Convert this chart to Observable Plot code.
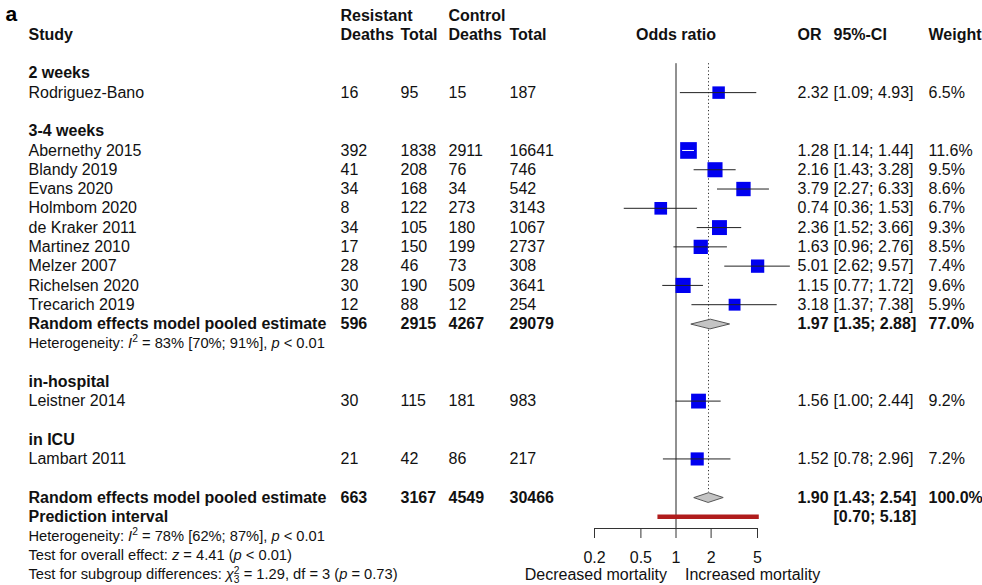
<!DOCTYPE html>
<html><head><meta charset="utf-8">
<script src="https://cdn.jsdelivr.net/npm/d3@7"></script>
<script src="https://cdn.jsdelivr.net/npm/@observablehq/plot@0.6"></script>
<style>
html,body{margin:0;padding:0;background:#fff;}
#chart svg{display:block;}
</style></head><body><div id="chart"></div>
<script>
// ---------------- data ----------------
const panelLetter = "a";
const groups = ["2 weeks", "3-4 weeks", "in-hospital", "in ICU"];
const studies = ["Rodriguez-Bano", "Abernethy 2015", "Blandy 2019", "Evans 2020", "Holmbom 2020", "de Kraker 2011",
  "Martinez 2010", "Melzer 2007", "Richelsen 2020", "Trecarich 2019", "Leistner 2014", "Lambart 2011"];
const studyGroup = [0, 1, 1, 1, 1, 1, 1, 1, 1, 1, 2, 3];
const resDeaths = [16, 392, 41, 34, 8, 34, 17, 28, 30, 12, 30, 21];
const resTotal = [95, 1838, 208, 168, 122, 105, 150, 46, 190, 88, 115, 42];
const ctrlDeaths = [15, 2911, 76, 34, 273, 180, 199, 73, 509, 12, 181, 86];
const ctrlTotal = [187, 16641, 746, 542, 3143, 1067, 2737, 308, 3641, 254, 983, 217];
const oddsRatio = [2.32, 1.28, 2.16, 3.79, 0.74, 2.36, 1.63, 5.01, 1.15, 3.18, 1.56, 1.52];
const ciLow = [1.09, 1.14, 1.43, 2.27, 0.36, 1.52, 0.96, 2.62, 0.77, 1.37, 1.00, 0.78];
const ciHigh = [4.93, 1.44, 3.28, 6.33, 1.53, 3.66, 2.76, 9.57, 1.72, 7.38, 2.44, 2.96];
const weights = [6.5, 11.6, 9.5, 8.6, 6.7, 9.3, 8.5, 7.4, 9.6, 5.9, 9.2, 7.2];

// subgroup pooled estimates (only groups with >1 study)
const pooledGroup = [1];
const pooledCounts = [[596, 2915, 4267, 29079]];
const pooledOR = [1.97];
const pooledLow = [1.35];
const pooledHigh = [2.88];
const pooledWeight = [77.0];
const pooledHet = ["Heterogeneity: *I*^2^ = 83% [70%; 91%], *p* < 0.01"];

// overall
const pooledLabel = "Random effects model pooled estimate";
const overallCounts = [663, 3167, 4549, 30466];
const overallOR = 1.90, overallLow = 1.43, overallHigh = 2.54, overallWeight = 100.0;
const predLabel = "Prediction interval";
const predLow = 0.70, predHigh = 5.18;
const footnotes = [
  "Heterogeneity: *I*^2^ = 78% [62%; 87%], *p* < 0.01",
  "Test for overall effect: *z* = 4.41 (*p* < 0.01)",
  "Test for subgroup differences: *χ*^2^_3_ = 1.29, df = 3 (*p* = 0.73)"
];
const headerTop = ["Resistant", "Control"];
const headerCols = ["Study", "Deaths", "Total", "Deaths", "Total", "Odds ratio", "OR", "95%-CI", "Weight"];
const ticks = [0.2, 0.5, 1, 2, 5];
const nullEffect = 1;
const labelLeft = "Decreased mortality", labelRight = "Increased mortality";

// ---------------- layout ----------------
const W = 982, H = 585;
const X0 = 594, X1 = 757;
const top0 = 15, pitch = 19.28, axisY = 528;
const axisRow = (axisY - top0) / pitch;
const colX = {a: 5, study: 28, resD: 340, resT: 400, ctrlD: 448, ctrlT: 509, or: 797, ci: 833, w: 928};
const fs = 16, fsSmall = 14.7;
const ink = "#111";
const rMax = 9.4;
const pxPerDecade = (X1 - X0) / Math.log10(ticks[ticks.length - 1] / ticks[0]);
const dh = 0.25;

const f2 = d => d.toFixed(2);
const fci = (lo, hi) => `[${f2(lo)}; ${f2(hi)}]`;
const fw = d => d.toFixed(1) + "%";

// ---------------- build rows ----------------
const cells = [];
const add = (row, col, text, bold = false, size = fs) => cells.push({row, col, text: String(text), weight: bold ? "bold" : "normal", size});
add(0, "resD", headerTop[0], true); add(0, "ctrlD", headerTop[1], true);
["study", "resD", "resT", "ctrlD", "ctrlT"].forEach((c, k) => add(1, c, headerCols[k], true));
["or", "ci", "w"].forEach((c, k) => add(1, c, headerCols[6 + k], true));

const studyRows = [], summaries = [];
let r = 3;
groups.forEach((g, gi) => {
  add(r++, "study", g, true);
  studies.forEach((s, i) => {
    if (studyGroup[i] !== gi) return;
    add(r, "study", s); add(r, "resD", resDeaths[i]); add(r, "resT", resTotal[i]);
    add(r, "ctrlD", ctrlDeaths[i]); add(r, "ctrlT", ctrlTotal[i]);
    add(r, "or", f2(oddsRatio[i])); add(r, "ci", fci(ciLow[i], ciHigh[i])); add(r, "w", fw(weights[i]));
    studyRows.push({row: r, or: oddsRatio[i], lo: ciLow[i], hi: ciHigh[i], w: weights[i]});
    r++;
  });
  const p = pooledGroup.indexOf(gi);
  if (p >= 0) {
    add(r, "study", pooledLabel, true);
    ["resD", "resT", "ctrlD", "ctrlT"].forEach((c, k) => add(r, c, pooledCounts[p][k], true));
    add(r, "or", f2(pooledOR[p]), true); add(r, "ci", fci(pooledLow[p], pooledHigh[p]), true); add(r, "w", fw(pooledWeight[p]), true);
    summaries.push({row: r, est: pooledOR[p], lo: pooledLow[p], hi: pooledHigh[p]});
    r++;
    add(r++, "study", pooledHet[p], false, fsSmall);
  }
  r++;
});
const overallRow = r;
add(r, "study", pooledLabel, true);
["resD", "resT", "ctrlD", "ctrlT"].forEach((c, k) => add(r, c, overallCounts[k], true));
add(r, "or", f2(overallOR), true); add(r, "ci", fci(overallLow, overallHigh), true); add(r, "w", fw(overallWeight), true);
summaries.push({row: r, est: overallOR, lo: overallLow, hi: overallHigh});
r++;
const predRow = r;
add(r, "study", predLabel, true); add(r, "ci", fci(predLow, predHigh), true);
r++;
footnotes.forEach(t => add(r++, "study", t, false, fsSmall));
const bottomRow = r - 1;

const wMax = d3.max(weights);
studyRows.forEach(d => {
  const side = rMax * Math.sqrt(Math.PI) * Math.sqrt(d.w / wMax);
  d.inside = Math.log10(d.hi / d.lo) * pxPerDecade < side;
});
const diamondPts = summaries.flatMap((s, k) => [
  {id: k, x: s.lo, y: s.row}, {id: k, x: s.est, y: s.row - dh},
  {id: k, x: s.hi, y: s.row}, {id: k, x: s.est, y: s.row + dh}
]);

const cellMarks = d3.groups(cells, d => d.col, d => d.weight, d => d.size).flatMap(([col, byW]) =>
  byW.flatMap(([wt, byS]) => byS.map(([size, data]) =>
    Plot.text(data, {y: "row", text: "text", frameAnchor: "left", textAnchor: "start",
      dx: colX[col] - X0, fontWeight: wt, fontSize: size, fill: ink}))));

const plot = Plot.plot({
  width: W, height: H,
  marginLeft: X0, marginRight: W - X1, marginTop: top0, marginBottom: H - axisY,
  style: {fontFamily: "'Liberation Sans', Arial, Helvetica, sans-serif", fontSize: fs + "px", background: "#fff", color: ink, overflow: "visible"},
  x: {type: "log", domain: [ticks[0], ticks[ticks.length - 1]], range: [X0, X1]},
  y: {domain: [0, axisRow], range: [top0, axisY], axis: null},
  r: {type: "sqrt", domain: [0, wMax], range: [0, rMax]},
  marks: [
    Plot.ruleX([nullEffect], {y1: 2.5, y2: axisRow, stroke: "#222", strokeWidth: 1}),
    Plot.ruleX([overallOR], {y1: 2.5, y2: overallRow - dh, stroke: "#333", strokeWidth: 1, strokeDasharray: "1.2,2.4"}),
    Plot.ruleY([predRow], {x1: predLow, x2: predHigh, stroke: "#b01c1c", strokeWidth: 4.5}),
    Plot.dot(studyRows, {x: "or", y: "row", r: "w", symbol: "square", fill: "#0000f0", stroke: "none"}),
    Plot.ruleY(studyRows.filter(d => !d.inside), {y: "row", x1: "lo", x2: "hi", stroke: "#222", strokeWidth: 1}),
    Plot.ruleY(studyRows.filter(d => d.inside), {y: "row", x1: "lo", x2: "hi", stroke: "#fff", strokeWidth: 1}),
    Plot.line(diamondPts, {x: "x", y: "y", z: "id", curve: "linear-closed", fill: "#c4c4c4", stroke: "#555", strokeWidth: 1}),
    Plot.ruleY([axisRow], {x1: ticks[0], x2: ticks[ticks.length - 1], stroke: "#333", strokeWidth: 1}),
    Plot.axisX({ticks, tickFormat: d => String(d), tickSize: 10, tickPadding: 13, fontSize: fs, label: null, stroke: "#333"}),
    Plot.text([labelLeft], {x: nullEffect, y: bottomRow, text: d => d, dx: -9, textAnchor: "end", fontSize: fs, fill: ink}),
    Plot.text([labelRight], {x: nullEffect, y: bottomRow, text: d => d, dx: 9, textAnchor: "start", fontSize: fs, fill: ink}),
    Plot.text([headerCols[5]], {x: nullEffect, y: 1, text: d => d, fontWeight: "bold", fontSize: fs, fill: ink}),
    Plot.text([panelLetter], {y: 0, text: d => d, frameAnchor: "left", textAnchor: "start", dx: colX.a - X0, dy: -1, fontWeight: "bold", fontSize: 21, fill: "#000"}),
    ...cellMarks
  ]
});
document.getElementById("chart").appendChild(plot);

// rich text: *italic*, ^superscript^, _subscript_ (stacked under preceding superscript)
const NS = "http://www.w3.org/2000/svg";
plot.querySelectorAll("text").forEach(t => {
  const s = t.textContent;
  if (!/[*^_]/.test(s)) return;
  const parts = s.split(/(\*[^*]+\*|\^[^^]+\^|_[^_]+_)/).filter(p => p);
  t.textContent = "";
  let cur = 0, prev = null;
  parts.forEach(p => {
    const ts = document.createElementNS(NS, "tspan");
    let txt = p, target = 0, dx = 0;
    if (p[0] === "*") { txt = p.slice(1, -1); ts.setAttribute("font-style", "italic"); }
    else if (p[0] === "^") { txt = p.slice(1, -1); target = -5.5; ts.setAttribute("font-size", "70%"); }
    else if (p[0] === "_") {
      txt = p.slice(1, -1); target = 4; ts.setAttribute("font-size", "70%");
      if (prev && prev.kind === "^") dx = -prev.el.getComputedTextLength();
    }
    ts.textContent = txt;
    if (target - cur !== 0) ts.setAttribute("dy", target - cur);
    if (dx) ts.setAttribute("dx", dx);
    cur = target;
    t.appendChild(ts);
    prev = {kind: p[0], el: ts};
  });
});
</script></body></html>
